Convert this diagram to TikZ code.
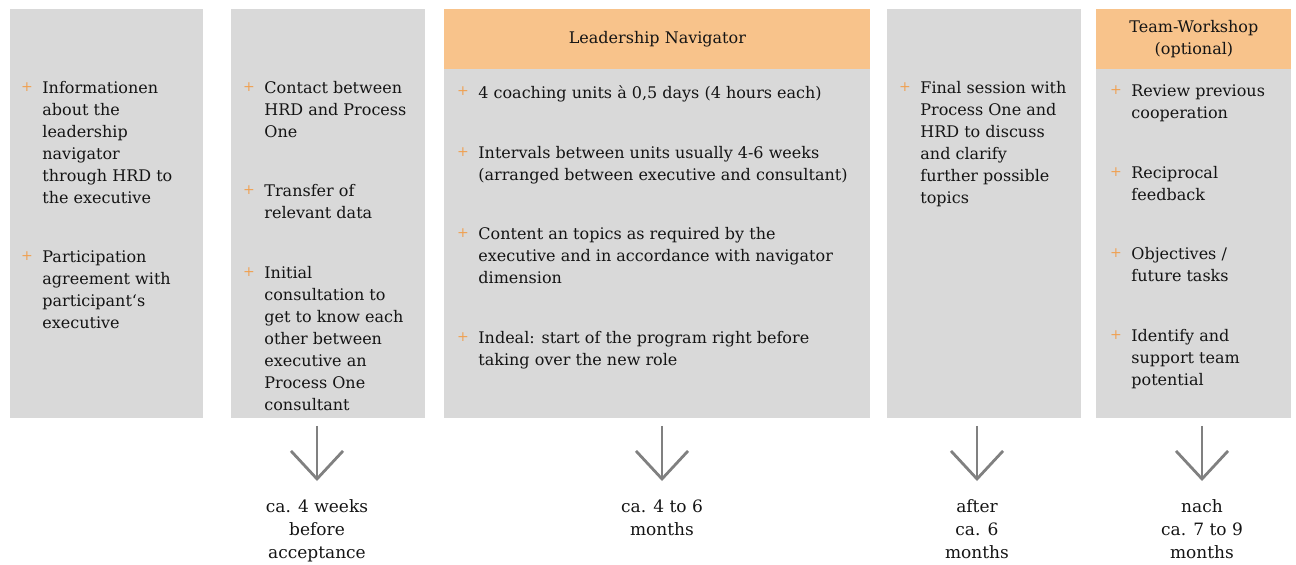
\documentclass[tikz,border=0pt]{standalone}
\usepackage{fontspec}
\setmainfont{DejaVu Serif}
\usetikzlibrary{arrows.meta,positioning,calc}
\definecolor{boxgray}{HTML}{D9D9D9}
\definecolor{headpeach}{HTML}{F8C38B}
\definecolor{plusorange}{HTML}{F0A050}
\definecolor{arrgray}{HTML}{808080}
\definecolor{txtdark}{HTML}{141414}
\tikzset{
  colbox/.style={fill=boxgray,anchor=north west,inner sep=0pt,minimum height=204.5pt},
  headbox/.style={fill=headpeach,anchor=north west,inner sep=0pt,minimum height=30pt,align=center,text=txtdark,font=\fontsize{8}{11}\selectfont},
  itm/.style={anchor=north west,align=left,inner sep=0pt,text=txtdark,font=\fontsize{8}{11}\selectfont},
  plusmark/.style={inner sep=0pt,text=plusorange,font=\fontsize{7}{7}\selectfont},
  timelbl/.style={anchor=north,align=center,inner sep=0pt,text=txtdark,font=\fontsize{8.5}{11.5}\selectfont},
  darr/.style={draw=arrgray,line width=1.4pt,-{Straight Barb[length=14pt,width=26pt]}}
}
\begin{document}
\begin{tikzpicture}[x=0.5pt,y=-0.5pt]
  \useasboundingbox (0,0) rectangle (1296,564);
  % phase columns
  \node[colbox,minimum width=96.5pt] (col1) at (10,9) {};
  \node[colbox,minimum width=97pt] (col2) at (231,9) {};
  \node[colbox,minimum width=213pt] (col3) at (444,9) {};
  \node[colbox,minimum width=97pt] (col4) at (887,9) {};
  \node[colbox,minimum width=97.5pt] (col5) at (1096,9) {};
  % headers
  \node[headbox,minimum width=213pt] (h3) at (col3.north west) {Leadership Navigator};
  \node[headbox,minimum width=97.5pt] (h5) at (col5.north west) {Team-Workshop\\(optional)};

  % items (placed by the top of their first line)
  \node[itm] (a1) at (42,80.5) {Informationen\\about the\\leadership\\navigator\\through HRD to\\the executive};
  \node[itm] (a2) at (42,250) {Participation\\agreement with\\participant‘s\\executive};
  \node[itm] (b1) at (264,80.5) {Contact between\\HRD and Process\\One};
  \node[itm] (b2) at (264,184) {Transfer of\\relevant data};
  \node[itm] (b3) at (264,265.5) {Initial\\consultation to\\get to know each\\other between\\executive an\\Process One\\consultant};
  \node[itm] (c1) at (478,85) {4 coaching units à 0,5 days (4 hours each)};
  \node[itm] (c2) at (478,146) {Intervals between units usually 4-6 weeks\\(arranged between executive and consultant)};
  \node[itm] (c3) at (478,227) {Content an topics as required by the\\executive and in accordance with navigator\\dimension};
  \node[itm] (c4) at (478,331) {Indeal: start of the program right before\\taking over the new role};
  \node[itm] (d1) at (920,80.5) {Final session with\\Process One and\\HRD to discuss\\and clarify\\further possible\\topics};
  \node[itm] (e1) at (1131,84) {Review previous\\cooperation};
  \node[itm] (e2) at (1131,166) {Reciprocal\\feedback};
  \node[itm] (e3) at (1131,247) {Objectives /\\future tasks};
  \node[itm] (e4) at (1131,329) {Identify and\\support team\\potential};
  \foreach \i in {a1,a2,b1,b2,b3,c1,c2,c3,c4,d1,e1,e2,e3,e4}
    \node[plusmark] (p\i) at ([shift={(-7.5pt,-3.2pt)}]\i.north west) {+};

  % durations
  \node[timelbl] (t1) at (317,499) {ca. 4 weeks\\before\\acceptance};
  \node[timelbl] (t2) at (662,499) {ca. 4 to 6\\months};
  \node[timelbl] (t3) at (977,499) {after\\ca. 6\\months};
  \node[timelbl] (t4) at (1202,499) {nach\\ca. 7 to 9\\months};

  \draw[darr] ([yshift=-3.5pt]col2.south -| t1.north) -- ([yshift=9pt]t1.north);
  \draw[darr] ([yshift=-3.5pt]col3.south -| t2.north) -- ([yshift=9pt]t2.north);
  \draw[darr] ([yshift=-3.5pt]col4.south -| t3.north) -- ([yshift=9pt]t3.north);
  \draw[darr] ([yshift=-3.5pt]col5.south -| t4.north) -- ([yshift=9pt]t4.north);
\end{tikzpicture}
\end{document}
